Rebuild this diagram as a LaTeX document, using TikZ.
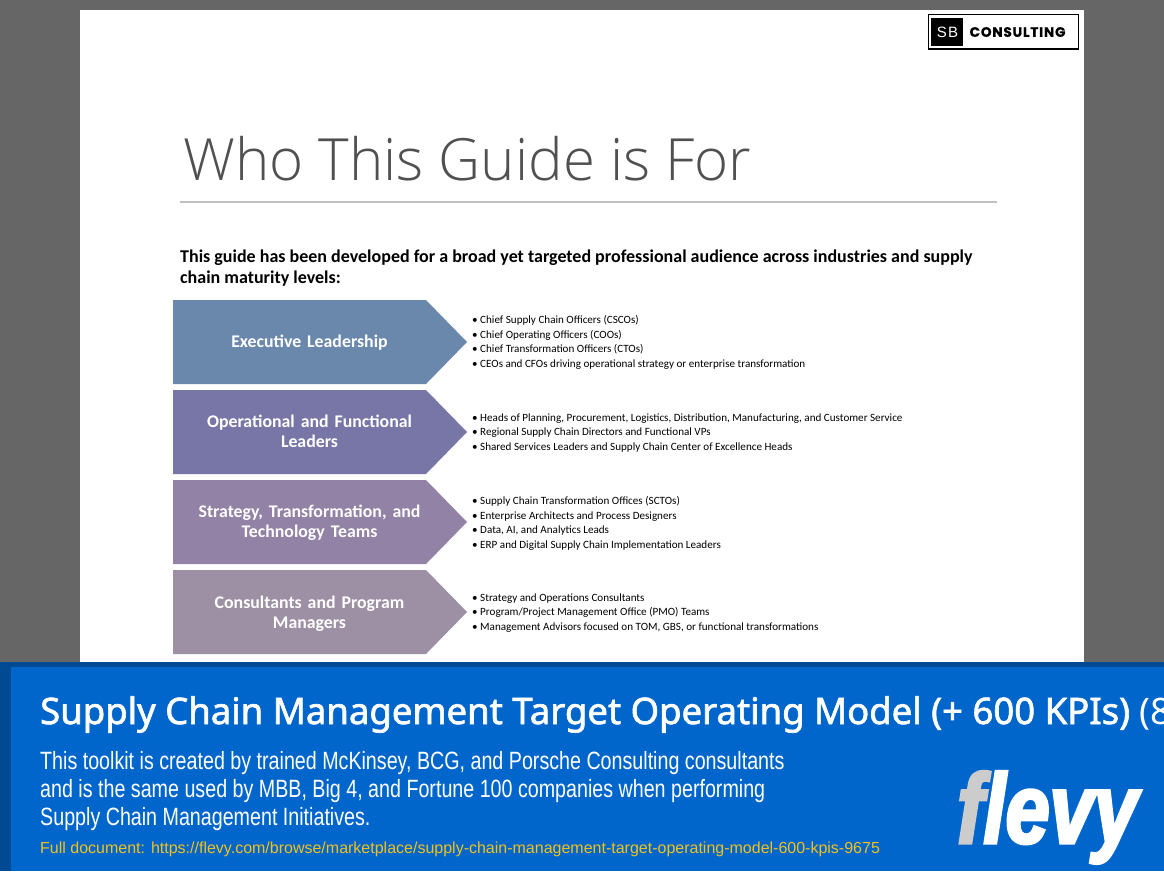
\documentclass[tikz,border=0pt]{standalone}
\usepackage{fontspec}
\setmainfont{Carlito}
\newfontfamily\titlefont[UprightFont=* Light]{Open Sans}
\newfontfamily\bannerfont{Noto Sans}
\newfontfamily\bannerbold[FakeBold=1.8]{Noto Sans}
\newfontfamily\subfont[FakeStretch=0.787]{Liberation Sans}
\newfontfamily\linkfont{Liberation Sans}
\newfontfamily\sbfont{Liberation Sans}
\newfontfamily\conslogofont[FakeBold=0.6,LetterSpace=6]{Poppins}
\newfontfamily\flevyfont[FakeStretch=0.8,FakeBold=3]{Liberation Sans}
\definecolor{pagegrey}{HTML}{666666}
\definecolor{bannerdark}{HTML}{004A94}
\definecolor{bannerblue}{HTML}{0066CC}
\definecolor{arrowA}{HTML}{6A88AC}
\definecolor{arrowB}{HTML}{7776A6}
\definecolor{arrowC}{HTML}{9282A5}
\definecolor{arrowD}{HTML}{9E90A4}
\definecolor{titlegrey}{HTML}{505050}
\definecolor{rulegrey}{HTML}{C0C0C0}
\definecolor{linkyellow}{HTML}{F2C21A}
\definecolor{logogrey}{HTML}{CCCCCC}
\tikzset{
  arrowlabel/.style={text=white,font=\fontsize{17.8}{20}\selectfont\bfseries,align=center,text width=245pt,inner sep=0pt},
  bullets/.style={anchor=north west,inner sep=0pt,align=left,font=\fontsize{11.1}{14.4}\selectfont,text=black},
  subline/.style={anchor=base west,inner sep=0pt,text=white,font=\subfont\fontsize{25}{25}\selectfont},
}
\newcommand{\chevron}[4]{\fill[#1] (173,#2) -- (426,#2) -- (467,#2+42) -- (426,#2+84) -- (173,#2+84) -- cycle;
  \node[arrowlabel] (#3) at (309.5,#2+#4) {\csname lbl#3\endcsname};}
\newcommand{\lblexec}{Executive Leadership}
\newcommand{\lblops}{Operational and Functional\\Leaders}
\newcommand{\lblstrat}{Strategy, Transformation, and\\Technology Teams}
\newcommand{\lblcons}{Consultants and Program\\Managers}
\begin{document}
\begin{tikzpicture}[x=1pt,y=-1pt]
\useasboundingbox (0,0) rectangle (1164,871);
\clip (0,0) rectangle (1164,871);
\fill[pagegrey] (0,0) rectangle (1164,871);
\fill[white] (80,10) rectangle (1084,662);
% logo
\draw[black,line width=1.6pt,fill=white] (928.5,14.5) rectangle (1078.5,49);
\fill[black] (931,18) rectangle (963,46);
\node[inner sep=0pt,text=white,font=\sbfont\fontsize{15}{15}\selectfont] (sb) at (947.5,32) {\addfontfeatures{LetterSpace=8}SB};
\node[inner sep=0pt,anchor=west,text=black,font=\conslogofont\fontsize{13.6}{14}\selectfont\bfseries] (consulting) at (969.5,32) {CONSULTING};
% title
\node[anchor=base west,inner sep=0pt,text=titlegrey,font=\titlefont\fontsize{58.2}{58}\selectfont] (title) at (183,180) {Who This Guide is For};
\draw[rulegrey,line width=1.4pt] (180,202) -- (997,202);
\node[anchor=north west,inner sep=0pt,align=left,text=black,font=\fontsize{18}{21}\selectfont\bfseries] (intro) at (180,250) {This guide has been developed for a broad yet targeted professional audience across industries and supply\\chain maturity levels:};
% chevrons
\chevron{arrowA}{300}{exec}{42.5}
\chevron{arrowB}{390}{ops}{41.5}
\chevron{arrowC}{480}{strat}{42.5}
\chevron{arrowD}{570}{cons}{43.5}
% bullets
\node[bullets] (b1) at (472,315.5) {• Chief Supply Chain Officers (CSCOs)\\• Chief Operating Officers (COOs)\\• Chief Transformation Officers (CTOs)\\• CEOs and CFOs driving operational strategy or enterprise transformation};
\node[bullets] (b2) at (472,413.5) {• Heads of Planning, Procurement, Logistics, Distribution, Manufacturing, and Customer Service\\• Regional Supply Chain Directors and Functional VPs\\• Shared Services Leaders and Supply Chain Center of Excellence Heads};
\node[bullets] (b3) at (472,496.5) {• Supply Chain Transformation Offices (SCTOs)\\• Enterprise Architects and Process Designers\\• Data, AI, and Analytics Leads\\• ERP and Digital Supply Chain Implementation Leaders};
\node[bullets] (b4) at (472,593.5) {• Strategy and Operations Consultants\\• Program/Project Management Office (PMO) Teams\\• Management Advisors focused on TOM, GBS, or functional transformations};
% banner
\fill[bannerdark] (0,662) rectangle (1164,871);
\fill[bannerblue] (11,667) rectangle (1164,871);
\node[anchor=base west,inner sep=0pt,text=white,font=\bannerfont\fontsize{36.5}{36}\selectfont] (bt) at (40,724) {{\bannerbold Supply Chain Management Target Operating Model (+ 600 KPIs)} (8};
\node[subline] (s1) at (40,769) {This toolkit is created by trained McKinsey, BCG, and Porsche Consulting consultants};
\node[subline] (s2) at (40,797) {and is the same used by MBB, Big 4, and Fortune 100 companies when performing};
\node[subline] (s3) at (40,825) {Supply Chain Management Initiatives.};
\node[anchor=base west,inner sep=0pt,text=linkyellow,font=\linkfont\fontsize{16}{16}\selectfont] (link) at (40,853) {Full document: https://flevy.com/browse/marketplace/supply-chain-management-target-operating-model-600-kpis-9675};
% flevy logo
\node[anchor=base west,inner sep=0pt,font=\flevyfont\fontsize{99}{99}\selectfont\bfseries\itshape,text=white] (flevy) at (957,843) {\textcolor{logogrey}{f}levy};
\end{tikzpicture}
\end{document}
